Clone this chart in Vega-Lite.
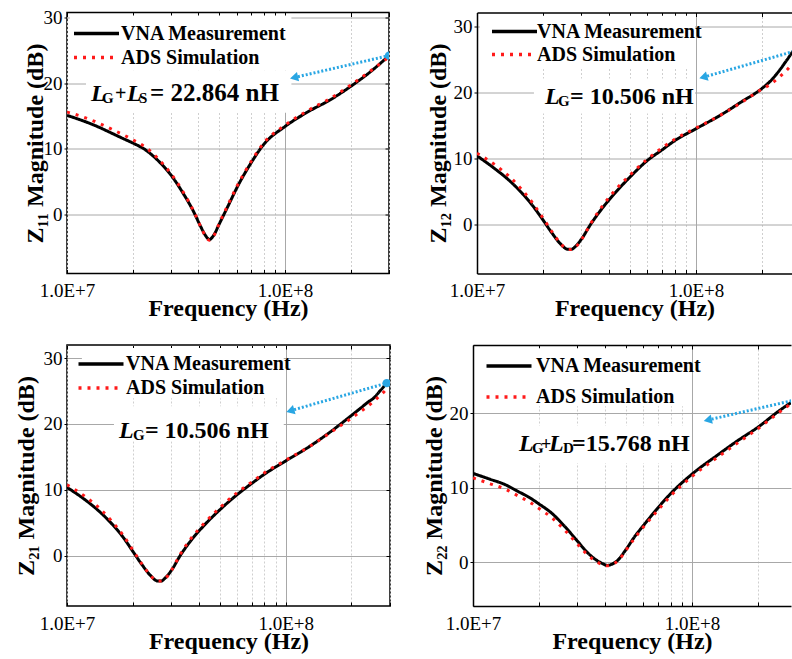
{
  "$schema": "https://vega.github.io/schema/vega-lite/v6.json",
  "background": "white",
  "padding": {"left": 13, "top": 7.5, "right": 0, "bottom": 0},
  "spacing": 21.5,
  "config": {
    "font": "Liberation Serif",
    "view": {"stroke": "black", "strokeWidth": 1.5},
    "axis": {"labelFont": "Liberation Serif", "labelFontSize": 19, "labelColor": "black", "titleFont": "Liberation Serif", "titleFontSize": 24, "titleFontWeight": "bold", "titleColor": "black", "tickColor": "black", "domainColor": "black", "domainWidth": 1.5},
    "legend": {"title": null, "symbolType": "M-3,0H3", "symbolSize": 225, "symbolStrokeWidth": 3.5, "labelFont": "Liberation Serif", "labelFontSize": 20, "labelFontWeight": "bold", "labelColor": "black", "padding": 0, "rowPadding": 4, "labelLimit": 400}
  },
  "datasets": {
    "z11": [
      {"f": 10000000, "db": 15.1, "s": "VNA Measurement"}, {"f": 12000000, "db": 14.2, "s": "VNA Measurement"}, {"f": 14000000, "db": 13.3, "s": "VNA Measurement"}, {"f": 16000000, "db": 12.4, "s": "VNA Measurement"}, {"f": 18000000, "db": 11.6, "s": "VNA Measurement"}, {"f": 20000000, "db": 10.9, "s": "VNA Measurement"}, {"f": 23000000, "db": 9.8, "s": "VNA Measurement"}, {"f": 26000000, "db": 8.3, "s": "VNA Measurement"}, {"f": 30000000, "db": 6.0, "s": "VNA Measurement"}, {"f": 34000000, "db": 3.3, "s": "VNA Measurement"}, {"f": 38000000, "db": 0.5, "s": "VNA Measurement"}, {"f": 41000000, "db": -1.8, "s": "VNA Measurement"}, {"f": 43000000, "db": -3.1, "s": "VNA Measurement"}, {"f": 45000000, "db": -3.8, "s": "VNA Measurement"}, {"f": 47000000, "db": -3.2, "s": "VNA Measurement"}, {"f": 50000000, "db": -1.4, "s": "VNA Measurement"}, {"f": 55000000, "db": 1.4, "s": "VNA Measurement"}, {"f": 60000000, "db": 4.0, "s": "VNA Measurement"}, {"f": 70000000, "db": 7.9, "s": "VNA Measurement"}, {"f": 80000000, "db": 10.7, "s": "VNA Measurement"}, {"f": 100000000, "db": 13.4, "s": "VNA Measurement"}, {"f": 130000000, "db": 15.8, "s": "VNA Measurement"}, {"f": 160000000, "db": 17.4, "s": "VNA Measurement"}, {"f": 200000000, "db": 19.5, "s": "VNA Measurement"}, {"f": 250000000, "db": 21.9, "s": "VNA Measurement"}, {"f": 300000000, "db": 24.2, "s": "VNA Measurement"},
      {"f": 10000000, "db": 15.6, "s": "ADS Simulation"}, {"f": 12000000, "db": 14.8, "s": "ADS Simulation"}, {"f": 14000000, "db": 13.9, "s": "ADS Simulation"}, {"f": 16000000, "db": 13.0, "s": "ADS Simulation"}, {"f": 18000000, "db": 12.2, "s": "ADS Simulation"}, {"f": 20000000, "db": 11.4, "s": "ADS Simulation"}, {"f": 23000000, "db": 10.2, "s": "ADS Simulation"}, {"f": 26000000, "db": 8.6, "s": "ADS Simulation"}, {"f": 30000000, "db": 6.2, "s": "ADS Simulation"}, {"f": 34000000, "db": 3.5, "s": "ADS Simulation"}, {"f": 38000000, "db": 0.6, "s": "ADS Simulation"}, {"f": 41000000, "db": -1.8, "s": "ADS Simulation"}, {"f": 43000000, "db": -3.2, "s": "ADS Simulation"}, {"f": 45000000, "db": -3.9, "s": "ADS Simulation"}, {"f": 47000000, "db": -3.3, "s": "ADS Simulation"}, {"f": 50000000, "db": -1.3, "s": "ADS Simulation"}, {"f": 55000000, "db": 1.6, "s": "ADS Simulation"}, {"f": 60000000, "db": 4.2, "s": "ADS Simulation"}, {"f": 70000000, "db": 8.1, "s": "ADS Simulation"}, {"f": 80000000, "db": 10.9, "s": "ADS Simulation"}, {"f": 100000000, "db": 13.6, "s": "ADS Simulation"}, {"f": 130000000, "db": 16.0, "s": "ADS Simulation"}, {"f": 160000000, "db": 17.6, "s": "ADS Simulation"}, {"f": 200000000, "db": 19.7, "s": "ADS Simulation"}, {"f": 250000000, "db": 22.0, "s": "ADS Simulation"}, {"f": 300000000, "db": 24.0, "s": "ADS Simulation"}
    ],
    "z12": [
      {"f": 10000000, "db": 10.4, "s": "VNA Measurement"}, {"f": 12000000, "db": 8.5, "s": "VNA Measurement"}, {"f": 14000000, "db": 6.7, "s": "VNA Measurement"}, {"f": 16000000, "db": 4.8, "s": "VNA Measurement"}, {"f": 18000000, "db": 2.8, "s": "VNA Measurement"}, {"f": 20000000, "db": 0.7, "s": "VNA Measurement"}, {"f": 22000000, "db": -1.3, "s": "VNA Measurement"}, {"f": 24000000, "db": -2.9, "s": "VNA Measurement"}, {"f": 26000000, "db": -3.75, "s": "VNA Measurement"}, {"f": 27000000, "db": -3.75, "s": "VNA Measurement"}, {"f": 28000000, "db": -3.4, "s": "VNA Measurement"}, {"f": 30000000, "db": -2.2, "s": "VNA Measurement"}, {"f": 33000000, "db": 0.0, "s": "VNA Measurement"}, {"f": 37000000, "db": 2.3, "s": "VNA Measurement"}, {"f": 42000000, "db": 4.5, "s": "VNA Measurement"}, {"f": 50000000, "db": 7.2, "s": "VNA Measurement"}, {"f": 60000000, "db": 9.7, "s": "VNA Measurement"}, {"f": 70000000, "db": 11.3, "s": "VNA Measurement"}, {"f": 80000000, "db": 12.7, "s": "VNA Measurement"}, {"f": 100000000, "db": 14.5, "s": "VNA Measurement"}, {"f": 130000000, "db": 16.6, "s": "VNA Measurement"}, {"f": 160000000, "db": 18.5, "s": "VNA Measurement"}, {"f": 200000000, "db": 20.6, "s": "VNA Measurement"}, {"f": 220000000, "db": 21.8, "s": "VNA Measurement"}, {"f": 240000000, "db": 23.3, "s": "VNA Measurement"}, {"f": 260000000, "db": 24.9, "s": "VNA Measurement"}, {"f": 280000000, "db": 26.4, "s": "VNA Measurement"}, {"f": 300000000, "db": 27.3, "s": "VNA Measurement"},
      {"f": 10000000, "db": 10.8, "s": "ADS Simulation"}, {"f": 12000000, "db": 9.1, "s": "ADS Simulation"}, {"f": 14000000, "db": 7.3, "s": "ADS Simulation"}, {"f": 16000000, "db": 5.3, "s": "ADS Simulation"}, {"f": 18000000, "db": 3.2, "s": "ADS Simulation"}, {"f": 20000000, "db": 1.0, "s": "ADS Simulation"}, {"f": 22000000, "db": -1.1, "s": "ADS Simulation"}, {"f": 24000000, "db": -2.8, "s": "ADS Simulation"}, {"f": 26000000, "db": -3.8, "s": "ADS Simulation"}, {"f": 27000000, "db": -3.8, "s": "ADS Simulation"}, {"f": 28000000, "db": -3.5, "s": "ADS Simulation"}, {"f": 30000000, "db": -2.3, "s": "ADS Simulation"}, {"f": 33000000, "db": 0.1, "s": "ADS Simulation"}, {"f": 37000000, "db": 2.6, "s": "ADS Simulation"}, {"f": 42000000, "db": 4.9, "s": "ADS Simulation"}, {"f": 50000000, "db": 7.5, "s": "ADS Simulation"}, {"f": 60000000, "db": 9.9, "s": "ADS Simulation"}, {"f": 70000000, "db": 11.6, "s": "ADS Simulation"}, {"f": 80000000, "db": 12.9, "s": "ADS Simulation"}, {"f": 100000000, "db": 14.6, "s": "ADS Simulation"}, {"f": 130000000, "db": 16.6, "s": "ADS Simulation"}, {"f": 160000000, "db": 18.4, "s": "ADS Simulation"}, {"f": 200000000, "db": 20.5, "s": "ADS Simulation"}, {"f": 220000000, "db": 21.3, "s": "ADS Simulation"}, {"f": 240000000, "db": 22.3, "s": "ADS Simulation"}, {"f": 260000000, "db": 23.4, "s": "ADS Simulation"}, {"f": 280000000, "db": 24.6, "s": "ADS Simulation"}, {"f": 300000000, "db": 25.6, "s": "ADS Simulation"}
    ],
    "z21": [
      {"f": 10000000, "db": 10.4, "s": "VNA Measurement"}, {"f": 12000000, "db": 8.6, "s": "VNA Measurement"}, {"f": 14000000, "db": 6.8, "s": "VNA Measurement"}, {"f": 16000000, "db": 4.9, "s": "VNA Measurement"}, {"f": 18000000, "db": 2.9, "s": "VNA Measurement"}, {"f": 20000000, "db": 0.7, "s": "VNA Measurement"}, {"f": 22000000, "db": -1.3, "s": "VNA Measurement"}, {"f": 24000000, "db": -2.9, "s": "VNA Measurement"}, {"f": 26000000, "db": -3.8, "s": "VNA Measurement"}, {"f": 27000000, "db": -3.8, "s": "VNA Measurement"}, {"f": 28000000, "db": -3.4, "s": "VNA Measurement"}, {"f": 30000000, "db": -2.2, "s": "VNA Measurement"}, {"f": 33000000, "db": 0.1, "s": "VNA Measurement"}, {"f": 37000000, "db": 2.4, "s": "VNA Measurement"}, {"f": 42000000, "db": 4.5, "s": "VNA Measurement"}, {"f": 50000000, "db": 7.0, "s": "VNA Measurement"}, {"f": 60000000, "db": 9.3, "s": "VNA Measurement"}, {"f": 70000000, "db": 11.0, "s": "VNA Measurement"}, {"f": 80000000, "db": 12.4, "s": "VNA Measurement"}, {"f": 100000000, "db": 14.4, "s": "VNA Measurement"}, {"f": 130000000, "db": 16.7, "s": "VNA Measurement"}, {"f": 160000000, "db": 18.8, "s": "VNA Measurement"}, {"f": 200000000, "db": 21.3, "s": "VNA Measurement"}, {"f": 220000000, "db": 22.4, "s": "VNA Measurement"}, {"f": 240000000, "db": 23.4, "s": "VNA Measurement"}, {"f": 250000000, "db": 23.8, "s": "VNA Measurement"}, {"f": 270000000, "db": 25.0, "s": "VNA Measurement"}, {"f": 290000000, "db": 26.2, "s": "VNA Measurement"},
      {"f": 10000000, "db": 10.8, "s": "ADS Simulation"}, {"f": 12000000, "db": 9.1, "s": "ADS Simulation"}, {"f": 14000000, "db": 7.3, "s": "ADS Simulation"}, {"f": 16000000, "db": 5.3, "s": "ADS Simulation"}, {"f": 18000000, "db": 3.2, "s": "ADS Simulation"}, {"f": 20000000, "db": 0.9, "s": "ADS Simulation"}, {"f": 22000000, "db": -1.2, "s": "ADS Simulation"}, {"f": 24000000, "db": -2.9, "s": "ADS Simulation"}, {"f": 26000000, "db": -3.8, "s": "ADS Simulation"}, {"f": 27000000, "db": -3.8, "s": "ADS Simulation"}, {"f": 28000000, "db": -3.5, "s": "ADS Simulation"}, {"f": 30000000, "db": -2.2, "s": "ADS Simulation"}, {"f": 33000000, "db": 0.3, "s": "ADS Simulation"}, {"f": 37000000, "db": 2.7, "s": "ADS Simulation"}, {"f": 42000000, "db": 4.8, "s": "ADS Simulation"}, {"f": 50000000, "db": 7.3, "s": "ADS Simulation"}, {"f": 60000000, "db": 9.6, "s": "ADS Simulation"}, {"f": 70000000, "db": 11.2, "s": "ADS Simulation"}, {"f": 80000000, "db": 12.6, "s": "ADS Simulation"}, {"f": 100000000, "db": 14.5, "s": "ADS Simulation"}, {"f": 130000000, "db": 16.7, "s": "ADS Simulation"}, {"f": 160000000, "db": 18.7, "s": "ADS Simulation"}, {"f": 200000000, "db": 20.9, "s": "ADS Simulation"}, {"f": 220000000, "db": 21.9, "s": "ADS Simulation"}, {"f": 240000000, "db": 22.8, "s": "ADS Simulation"}, {"f": 260000000, "db": 23.8, "s": "ADS Simulation"}, {"f": 280000000, "db": 24.8, "s": "ADS Simulation"}, {"f": 295000000, "db": 25.6, "s": "ADS Simulation"}
    ],
    "z22": [
      {"f": 10000000, "db": 11.9, "s": "VNA Measurement"}, {"f": 12000000, "db": 11.1, "s": "VNA Measurement"}, {"f": 14000000, "db": 10.4, "s": "VNA Measurement"}, {"f": 16000000, "db": 9.5, "s": "VNA Measurement"}, {"f": 18000000, "db": 8.7, "s": "VNA Measurement"}, {"f": 20000000, "db": 7.8, "s": "VNA Measurement"}, {"f": 23000000, "db": 6.5, "s": "VNA Measurement"}, {"f": 26000000, "db": 4.9, "s": "VNA Measurement"}, {"f": 30000000, "db": 2.8, "s": "VNA Measurement"}, {"f": 33000000, "db": 1.4, "s": "VNA Measurement"}, {"f": 36000000, "db": 0.4, "s": "VNA Measurement"}, {"f": 39000000, "db": -0.2, "s": "VNA Measurement"}, {"f": 41000000, "db": -0.45, "s": "VNA Measurement"}, {"f": 43000000, "db": -0.3, "s": "VNA Measurement"}, {"f": 46000000, "db": 0.3, "s": "VNA Measurement"}, {"f": 50000000, "db": 1.7, "s": "VNA Measurement"}, {"f": 55000000, "db": 3.5, "s": "VNA Measurement"}, {"f": 60000000, "db": 4.9, "s": "VNA Measurement"}, {"f": 70000000, "db": 7.3, "s": "VNA Measurement"}, {"f": 80000000, "db": 9.2, "s": "VNA Measurement"}, {"f": 100000000, "db": 11.8, "s": "VNA Measurement"}, {"f": 130000000, "db": 14.3, "s": "VNA Measurement"}, {"f": 160000000, "db": 16.2, "s": "VNA Measurement"}, {"f": 200000000, "db": 18.1, "s": "VNA Measurement"}, {"f": 250000000, "db": 20.3, "s": "VNA Measurement"}, {"f": 300000000, "db": 21.9, "s": "VNA Measurement"},
      {"f": 10000000, "db": 11.3, "s": "ADS Simulation"}, {"f": 12000000, "db": 10.5, "s": "ADS Simulation"}, {"f": 14000000, "db": 9.8, "s": "ADS Simulation"}, {"f": 16000000, "db": 8.9, "s": "ADS Simulation"}, {"f": 18000000, "db": 8.1, "s": "ADS Simulation"}, {"f": 20000000, "db": 7.2, "s": "ADS Simulation"}, {"f": 23000000, "db": 5.9, "s": "ADS Simulation"}, {"f": 26000000, "db": 4.4, "s": "ADS Simulation"}, {"f": 30000000, "db": 2.4, "s": "ADS Simulation"}, {"f": 33000000, "db": 1.1, "s": "ADS Simulation"}, {"f": 36000000, "db": 0.2, "s": "ADS Simulation"}, {"f": 39000000, "db": -0.35, "s": "ADS Simulation"}, {"f": 41000000, "db": -0.5, "s": "ADS Simulation"}, {"f": 43000000, "db": -0.35, "s": "ADS Simulation"}, {"f": 46000000, "db": 0.2, "s": "ADS Simulation"}, {"f": 50000000, "db": 1.6, "s": "ADS Simulation"}, {"f": 55000000, "db": 3.3, "s": "ADS Simulation"}, {"f": 60000000, "db": 4.7, "s": "ADS Simulation"}, {"f": 70000000, "db": 7.0, "s": "ADS Simulation"}, {"f": 80000000, "db": 8.9, "s": "ADS Simulation"}, {"f": 100000000, "db": 11.5, "s": "ADS Simulation"}, {"f": 130000000, "db": 14.0, "s": "ADS Simulation"}, {"f": 160000000, "db": 15.9, "s": "ADS Simulation"}, {"f": 200000000, "db": 17.9, "s": "ADS Simulation"}, {"f": 250000000, "db": 20.1, "s": "ADS Simulation"}, {"f": 300000000, "db": 21.8, "s": "ADS Simulation"}
    ]
  },
  "resolve": {"legend": {"color": "independent", "strokeDash": "independent"}},
  "vconcat": [
    {
      "spacing": 35,
      "resolve": {"legend": {"color": "independent", "strokeDash": "independent"}},
      "hconcat": [
        {
          "width": 322, "height": 261,
          "view": {"stroke": "black", "strokeWidth": 1.5},
          "resolve": {"axis": {"x": "independent", "y": "independent"}},
          "layer": [
            {"data": {"values": [{"f1": 10300000, "f2": 107000000, "d1": 21.9, "d2": 30.3}, {"f1": 12220000, "f2": 107000000, "d1": 15.5, "d2": 21.9}]}, "mark": {"type": "rect", "color": "white"},
             "encoding": {"x": {"field": "f1", "type": "quantitative", "axis": null}, "x2": {"field": "f2"}, "y": {"field": "d1", "type": "quantitative", "axis": null}, "y2": {"field": "d2"}}},
            {"data": {"name": "z11"}, "mark": {"type": "line", "clip": true, "interpolate": "monotone", "strokeWidth": 3},
             "encoding": {
               "x": {"field": "f", "type": "quantitative", "scale": {"type": "log", "domain": [10000000, 300000000], "nice": false}, "axis": {"orient": "bottom", "values": [10000000, 20000000, 30000000, 40000000, 50000000, 60000000, 70000000, 80000000, 90000000, 100000000, 200000000, 300000000], "labelExpr": "datum.value == 10000000 ? '1.0E+7' : (datum.value == 100000000 ? '1.0E+8' : '')", "labelFlush": false, "labelOverlap": false, "title": "Frequency (Hz)", "grid": true, "gridColor": {"condition": {"test": "datum.value == 100000000", "value": "#a8a8a8"}, "value": "#cfcfcf"}, "gridDash": {"condition": {"test": "datum.value == 100000000", "value": []}, "value": [2, 2]}, "domain": false, "tickSize": -4, "labelPadding": 12, "titlePadding": -4}},
               "y": {"field": "db", "type": "quantitative", "scale": {"domain": [-8.98, 30.76], "nice": false, "zero": false}, "axis": {"orient": "left", "values": [0, 10, 20, 30], "title": "Z₁₁ Magnitude (dB)", "grid": true, "gridColor": "#a8a8a8", "domain": false, "tickSize": 3, "labelPadding": 2, "titlePadding": -4}},
               "color": {"field": "s", "type": "nominal", "scale": {"domain": ["VNA Measurement", "ADS Simulation"], "range": ["#000000", "#ff1a1a"]}, "legend": {"orient": "none", "legendX": 19.5, "legendY": 11, "labelOffset": 14.5, "rowPadding": 4}},
               "strokeDash": {"field": "s", "type": "nominal", "scale": {"domain": ["VNA Measurement", "ADS Simulation"], "range": [[1, 0], [3, 6]]}, "legend": {"orient": "none", "legendX": 19.5, "legendY": 11, "labelOffset": 14.5, "rowPadding": 4}}
             }},
            {"data": {"values": [{"f": 300000000, "db": 24.2}, {"f": 110000000, "db": 20.85}]}, "mark": {"type": "line", "clip": true, "color": "#29a6e3", "strokeWidth": 3, "strokeDash": [2, 2]},
             "encoding": {"x": {"field": "f", "type": "quantitative", "axis": {"orient": "top", "values": [10000000, 20000000, 30000000, 40000000, 50000000, 60000000, 70000000, 80000000, 90000000, 100000000, 200000000, 300000000], "labels": false, "title": null, "grid": false, "domain": false, "tickSize": -4}}, "y": {"field": "db", "type": "quantitative", "axis": {"orient": "right", "values": [0, 10, 20, 30], "labels": false, "title": null, "grid": false, "domain": false, "tickSize": -4}}}},
            {"data": {"values": [{"f": 300000000, "db": 24.2}]}, "mark": {"type": "point", "clip": true, "filled": true, "opacity": 1, "color": "#29a6e3", "size": 70},
             "encoding": {"x": {"field": "f", "type": "quantitative", "axis": null}, "y": {"field": "db", "type": "quantitative", "axis": null}}},
            {"data": {"values": [{"f": 110000000, "db": 20.85}]}, "mark": {"type": "point", "shape": "triangle-left", "angle": 347, "filled": true, "opacity": 1, "color": "#29a6e3", "size": 90},
             "encoding": {"x": {"field": "f", "type": "quantitative", "axis": null}, "y": {"field": "db", "type": "quantitative", "axis": null}}},
            {"data": {"values": [{"f": 12890000, "db": 17.35, "t": "L"}, {"f": 18850000, "db": 17.35, "t": "L"}]}, "mark": {"type": "text", "font": "Liberation Serif", "fontStyle": "italic", "fontWeight": "bold", "fontSize": 24, "align": "left", "baseline": "alphabetic", "color": "black"},
             "encoding": {"x": {"field": "f", "type": "quantitative", "axis": null}, "y": {"field": "db", "type": "quantitative", "axis": null}, "text": {"field": "t"}}},
            {"data": {"values": [{"f": 14470000, "db": 17.05, "t": "G"}, {"f": 21390000, "db": 17.05, "t": "S"}]}, "mark": {"type": "text", "font": "Liberation Serif", "fontWeight": "bold", "fontSize": 15, "align": "left", "baseline": "alphabetic", "color": "black"},
             "encoding": {"x": {"field": "f", "type": "quantitative", "axis": null}, "y": {"field": "db", "type": "quantitative", "axis": null}, "text": {"field": "t"}}},
            {"data": {"values": [{"f": 16610000, "db": 17.5, "t": "+"}]}, "mark": {"type": "text", "font": "Liberation Serif", "fontWeight": "bold", "fontSize": 20, "align": "left", "baseline": "alphabetic", "color": "black"},
             "encoding": {"x": {"field": "f", "type": "quantitative", "axis": null}, "y": {"field": "db", "type": "quantitative", "axis": null}, "text": {"field": "t"}}},
            {"data": {"values": [{"f": 24030000, "db": 17.35, "t": "= 22.864 nH"}]}, "mark": {"type": "text", "font": "Liberation Serif", "fontWeight": "bold", "fontSize": 25, "align": "left", "baseline": "alphabetic", "color": "black"},
             "encoding": {"x": {"field": "f", "type": "quantitative", "axis": null}, "y": {"field": "db", "type": "quantitative", "axis": null}, "text": {"field": "t"}}}
          ]
        },
        {
          "width": 315, "height": 261,
          "view": {"stroke": null},
          "resolve": {"axis": {"x": "independent", "y": "independent"}},
          "layer": [
            {"data": {"values": [{"f1": 10300000, "f2": 99000000, "d1": 23.6, "d2": 31.6}, {"f1": 18200000, "f2": 99000000, "d1": 16.8, "d2": 22.1}]}, "mark": {"type": "rect", "color": "white"},
             "encoding": {"x": {"field": "f1", "type": "quantitative", "axis": null}, "x2": {"field": "f2"}, "y": {"field": "d1", "type": "quantitative", "axis": null}, "y2": {"field": "d2"}}},
            {"data": {"name": "z12"}, "mark": {"type": "line", "clip": true, "interpolate": "monotone", "strokeWidth": 3},
             "encoding": {
               "x": {"field": "f", "type": "quantitative", "scale": {"type": "log", "domain": [10000000, 274400000], "nice": false}, "axis": {"orient": "bottom", "values": [10000000, 20000000, 30000000, 40000000, 50000000, 60000000, 70000000, 80000000, 90000000, 100000000, 200000000], "labelExpr": "datum.value == 10000000 ? '1.0E+7' : (datum.value == 100000000 ? '1.0E+8' : '')", "labelFlush": false, "labelOverlap": false, "title": "Frequency (Hz)", "grid": true, "gridColor": {"condition": {"test": "datum.value == 100000000", "value": "#a8a8a8"}, "value": "#cfcfcf"}, "gridDash": {"condition": {"test": "datum.value == 100000000", "value": []}, "value": [2, 2]}, "domain": true, "tickSize": -4, "labelPadding": 12, "titlePadding": -4}},
               "y": {"field": "db", "type": "quantitative", "scale": {"domain": [-7.42, 32.1], "nice": false, "zero": false}, "axis": {"orient": "left", "values": [0, 10, 20, 30], "title": "Z₁₂ Magnitude (dB)", "grid": true, "gridColor": "#a8a8a8", "domain": true, "tickSize": 3, "labelPadding": 2, "titlePadding": 3}},
               "color": {"field": "s", "type": "nominal", "scale": {"domain": ["VNA Measurement", "ADS Simulation"], "range": ["#000000", "#ff1a1a"]}, "legend": {"orient": "none", "legendX": 27.5, "legendY": 9, "labelOffset": 12.5, "rowPadding": 3}},
               "strokeDash": {"field": "s", "type": "nominal", "scale": {"domain": ["VNA Measurement", "ADS Simulation"], "range": [[1, 0], [3, 6]]}, "legend": {"orient": "none", "legendX": 27.5, "legendY": 9, "labelOffset": 12.5, "rowPadding": 3}}
             }},
            {"data": {"values": [{"f": 300000000, "db": 26.5}, {"f": 108000000, "db": 22.3}]}, "mark": {"type": "line", "clip": true, "color": "#29a6e3", "strokeWidth": 3, "strokeDash": [2, 2]},
             "encoding": {"x": {"field": "f", "type": "quantitative", "axis": {"orient": "top", "values": [10000000, 20000000, 30000000, 40000000, 50000000, 60000000, 70000000, 80000000, 90000000, 100000000, 200000000], "labels": false, "title": null, "grid": false, "domain": true, "tickSize": -4}}, "y": {"field": "db", "type": "quantitative", "axis": null}}},
            {"data": {"values": [{"f": 108000000, "db": 22.3}]}, "mark": {"type": "point", "shape": "triangle-left", "angle": 344, "filled": true, "opacity": 1, "color": "#29a6e3", "size": 90},
             "encoding": {"x": {"field": "f", "type": "quantitative", "axis": null}, "y": {"field": "db", "type": "quantitative", "axis": null}}},
            {"data": {"values": [{"f": 20440000, "db": 18.29, "t": "L"}]}, "mark": {"type": "text", "font": "Liberation Serif", "fontStyle": "italic", "fontWeight": "bold", "fontSize": 24, "align": "left", "baseline": "alphabetic", "color": "black"},
             "encoding": {"x": {"field": "f", "type": "quantitative", "axis": null}, "y": {"field": "db", "type": "quantitative", "axis": null}, "text": {"field": "t"}}},
            {"data": {"values": [{"f": 23440000, "db": 18.0, "t": "G"}]}, "mark": {"type": "text", "font": "Liberation Serif", "fontWeight": "bold", "fontSize": 15, "align": "left", "baseline": "alphabetic", "color": "black"},
             "encoding": {"x": {"field": "f", "type": "quantitative", "axis": null}, "y": {"field": "db", "type": "quantitative", "axis": null}, "text": {"field": "t"}}},
            {"data": {"values": [{"f": 26590000, "db": 18.29, "t": "= 10.506 nH"}]}, "mark": {"type": "text", "font": "Liberation Serif", "fontWeight": "bold", "fontSize": 24, "align": "left", "baseline": "alphabetic", "color": "black"},
             "encoding": {"x": {"field": "f", "type": "quantitative", "axis": null}, "y": {"field": "db", "type": "quantitative", "axis": null}, "text": {"field": "t"}}}
          ]
        }
      ]
    },
    {
      "spacing": 30,
      "resolve": {"legend": {"color": "independent", "strokeDash": "independent"}},
      "hconcat": [
        {
          "width": 323, "height": 261,
          "view": {"stroke": "black", "strokeWidth": 1.5},
          "resolve": {"axis": {"x": "independent", "y": "independent"}},
          "layer": [
            {"data": {"values": [{"f1": 11700000, "f2": 98000000, "d1": 23.9, "d2": 31.5}, {"f1": 16400000, "f2": 98000000, "d1": 17.4, "d2": 22.7}]}, "mark": {"type": "rect", "color": "white"},
             "encoding": {"x": {"field": "f1", "type": "quantitative", "axis": null}, "x2": {"field": "f2"}, "y": {"field": "d1", "type": "quantitative", "axis": null}, "y2": {"field": "d2"}}},
            {"data": {"name": "z21"}, "mark": {"type": "line", "clip": true, "interpolate": "monotone", "strokeWidth": 3},
             "encoding": {
               "x": {"field": "f", "type": "quantitative", "scale": {"type": "log", "domain": [10000000, 300000000], "nice": false}, "axis": {"orient": "bottom", "values": [10000000, 20000000, 30000000, 40000000, 50000000, 60000000, 70000000, 80000000, 90000000, 100000000, 200000000, 300000000], "labelExpr": "datum.value == 10000000 ? '1.0E+7' : (datum.value == 100000000 ? '1.0E+8' : '')", "labelFlush": false, "labelOverlap": false, "title": "Frequency (Hz)", "grid": true, "gridColor": {"condition": {"test": "datum.value == 100000000", "value": "#a8a8a8"}, "value": "#cfcfcf"}, "gridDash": {"condition": {"test": "datum.value == 100000000", "value": []}, "value": [2, 2]}, "domain": false, "tickSize": -4, "labelPadding": 12, "titlePadding": -4}},
               "y": {"field": "db", "type": "quantitative", "scale": {"domain": [-7.58, 31.97], "nice": false, "zero": false}, "axis": {"orient": "left", "values": [0, 10, 20, 30], "title": "Z₂₁ Magnitude (dB)", "grid": true, "gridColor": "#a8a8a8", "domain": false, "tickSize": 3, "labelPadding": 2, "titlePadding": 5}},
               "color": {"field": "s", "type": "nominal", "scale": {"domain": ["VNA Measurement", "ADS Simulation"], "range": ["#000000", "#ff1a1a"]}, "legend": {"orient": "none", "legendX": 24, "legendY": 9, "labelOffset": 15, "rowPadding": 4}},
               "strokeDash": {"field": "s", "type": "nominal", "scale": {"domain": ["VNA Measurement", "ADS Simulation"], "range": [[1, 0], [3, 6]]}, "legend": {"orient": "none", "legendX": 24, "legendY": 9, "labelOffset": 15, "rowPadding": 4}}
             }},
            {"data": {"values": [{"f": 290000000, "db": 26.2}, {"f": 105000000, "db": 22.0}]}, "mark": {"type": "line", "clip": true, "color": "#29a6e3", "strokeWidth": 3, "strokeDash": [2, 2]},
             "encoding": {"x": {"field": "f", "type": "quantitative", "axis": {"orient": "top", "values": [10000000, 20000000, 30000000, 40000000, 50000000, 60000000, 70000000, 80000000, 90000000, 100000000, 200000000, 300000000], "labels": false, "title": null, "grid": false, "domain": false, "tickSize": -4}}, "y": {"field": "db", "type": "quantitative", "axis": {"orient": "right", "values": [0, 10, 20, 30], "labels": false, "title": null, "grid": false, "domain": false, "tickSize": -4}}}},
            {"data": {"values": [{"f": 290000000, "db": 26.2}]}, "mark": {"type": "point", "clip": true, "filled": true, "opacity": 1, "color": "#29a6e3", "size": 70},
             "encoding": {"x": {"field": "f", "type": "quantitative", "axis": null}, "y": {"field": "db", "type": "quantitative", "axis": null}}},
            {"data": {"values": [{"f": 105000000, "db": 22.0}]}, "mark": {"type": "point", "shape": "triangle-left", "angle": 344, "filled": true, "opacity": 1, "color": "#29a6e3", "size": 90},
             "encoding": {"x": {"field": "f", "type": "quantitative", "axis": null}, "y": {"field": "db", "type": "quantitative", "axis": null}}},
            {"data": {"values": [{"f": 17280000, "db": 17.9, "t": "L"}]}, "mark": {"type": "text", "font": "Liberation Serif", "fontStyle": "italic", "fontWeight": "bold", "fontSize": 24, "align": "left", "baseline": "alphabetic", "color": "black"},
             "encoding": {"x": {"field": "f", "type": "quantitative", "axis": null}, "y": {"field": "db", "type": "quantitative", "axis": null}, "text": {"field": "t"}}},
            {"data": {"values": [{"f": 20020000, "db": 17.62, "t": "G"}]}, "mark": {"type": "text", "font": "Liberation Serif", "fontWeight": "bold", "fontSize": 15, "align": "left", "baseline": "alphabetic", "color": "black"},
             "encoding": {"x": {"field": "f", "type": "quantitative", "axis": null}, "y": {"field": "db", "type": "quantitative", "axis": null}, "text": {"field": "t"}}},
            {"data": {"values": [{"f": 22710000, "db": 17.9, "t": "= 10.506 nH"}]}, "mark": {"type": "text", "font": "Liberation Serif", "fontWeight": "bold", "fontSize": 24, "align": "left", "baseline": "alphabetic", "color": "black"},
             "encoding": {"x": {"field": "f", "type": "quantitative", "axis": null}, "y": {"field": "db", "type": "quantitative", "axis": null}, "text": {"field": "t"}}}
          ]
        },
        {
          "width": 318, "height": 261,
          "view": {"stroke": null},
          "resolve": {"axis": {"x": "independent", "y": "independent"}},
          "layer": [
            {"data": {"values": [{"f1": 10300000, "f2": 98000000, "d1": 20.9, "d2": 28.7}, {"f1": 15100000, "f2": 98000000, "d1": 13.3, "d2": 18.3}]}, "mark": {"type": "rect", "color": "white"},
             "encoding": {"x": {"field": "f1", "type": "quantitative", "axis": null}, "x2": {"field": "f2"}, "y": {"field": "d1", "type": "quantitative", "axis": null}, "y2": {"field": "d2"}}},
            {"data": {"name": "z22"}, "mark": {"type": "line", "clip": true, "interpolate": "monotone", "strokeWidth": 3},
             "encoding": {
               "x": {"field": "f", "type": "quantitative", "scale": {"type": "log", "domain": [10000000, 283100000], "nice": false}, "axis": {"orient": "bottom", "values": [10000000, 20000000, 30000000, 40000000, 50000000, 60000000, 70000000, 80000000, 90000000, 100000000, 200000000], "labelExpr": "datum.value == 10000000 ? '1.0E+7' : (datum.value == 100000000 ? '1.0E+8' : '')", "labelFlush": false, "labelOverlap": false, "title": "Frequency (Hz)", "grid": true, "gridColor": {"condition": {"test": "datum.value == 100000000", "value": "#a8a8a8"}, "value": "#cfcfcf"}, "gridDash": {"condition": {"test": "datum.value == 100000000", "value": []}, "value": [2, 2]}, "domain": true, "tickSize": -4, "labelPadding": 12, "titlePadding": -4}},
               "y": {"field": "db", "type": "quantitative", "scale": {"domain": [-5.9, 29.13], "nice": false, "zero": false}, "axis": {"orient": "left", "values": [0, 10, 20], "title": "Z₂₂ Magnitude (dB)", "grid": true, "gridColor": "#a8a8a8", "domain": true, "tickSize": 3, "labelPadding": 2, "titlePadding": 3}},
               "color": {"field": "s", "type": "nominal", "scale": {"domain": ["VNA Measurement", "ADS Simulation"], "range": ["#000000", "#ff1a1a"]}, "legend": {"orient": "none", "legendX": 26, "legendY": 11, "labelOffset": 17, "rowPadding": 11}},
               "strokeDash": {"field": "s", "type": "nominal", "scale": {"domain": ["VNA Measurement", "ADS Simulation"], "range": [[1, 0], [3, 6]]}, "legend": {"orient": "none", "legendX": 26, "legendY": 11, "labelOffset": 17, "rowPadding": 11}}
             }},
            {"data": {"values": [{"f": 300000000, "db": 21.8}, {"f": 118000000, "db": 19.06}]}, "mark": {"type": "line", "clip": true, "color": "#29a6e3", "strokeWidth": 3, "strokeDash": [2, 2]},
             "encoding": {"x": {"field": "f", "type": "quantitative", "axis": {"orient": "top", "values": [10000000, 20000000, 30000000, 40000000, 50000000, 60000000, 70000000, 80000000, 90000000, 100000000, 200000000], "labels": false, "title": null, "grid": false, "domain": true, "tickSize": -4}}, "y": {"field": "db", "type": "quantitative", "axis": null}}},
            {"data": {"values": [{"f": 118000000, "db": 19.06}]}, "mark": {"type": "point", "shape": "triangle-left", "angle": 347, "filled": true, "opacity": 1, "color": "#29a6e3", "size": 90},
             "encoding": {"x": {"field": "f", "type": "quantitative", "axis": null}, "y": {"field": "db", "type": "quantitative", "axis": null}}},
            {"data": {"values": [{"f": 16220000, "db": 14.9, "t": "L"}, {"f": 22230000, "db": 14.9, "t": "L"}]}, "mark": {"type": "text", "font": "Liberation Serif", "fontStyle": "italic", "fontWeight": "bold", "fontSize": 24, "align": "left", "baseline": "alphabetic", "color": "black"},
             "encoding": {"x": {"field": "f", "type": "quantitative", "axis": null}, "y": {"field": "db", "type": "quantitative", "axis": null}, "text": {"field": "t"}}},
            {"data": {"values": [{"f": 18590000, "db": 14.63, "t": "G"}, {"f": 25760000, "db": 14.63, "t": "D"}]}, "mark": {"type": "text", "font": "Liberation Serif", "fontWeight": "bold", "fontSize": 15, "align": "left", "baseline": "alphabetic", "color": "black"},
             "encoding": {"x": {"field": "f", "type": "quantitative", "axis": null}, "y": {"field": "db", "type": "quantitative", "axis": null}, "text": {"field": "t"}}},
            {"data": {"values": [{"f": 20440000, "db": 15.1, "t": "+"}]}, "mark": {"type": "text", "font": "Liberation Serif", "fontWeight": "bold", "fontSize": 18, "align": "left", "baseline": "alphabetic", "color": "black"},
             "encoding": {"x": {"field": "f", "type": "quantitative", "axis": null}, "y": {"field": "db", "type": "quantitative", "axis": null}, "text": {"field": "t"}}},
            {"data": {"values": [{"f": 28320000, "db": 14.9, "t": "=15.768 nH"}]}, "mark": {"type": "text", "font": "Liberation Serif", "fontWeight": "bold", "fontSize": 24, "align": "left", "baseline": "alphabetic", "color": "black"},
             "encoding": {"x": {"field": "f", "type": "quantitative", "axis": null}, "y": {"field": "db", "type": "quantitative", "axis": null}, "text": {"field": "t"}}}
          ]
        }
      ]
    }
  ]
}
